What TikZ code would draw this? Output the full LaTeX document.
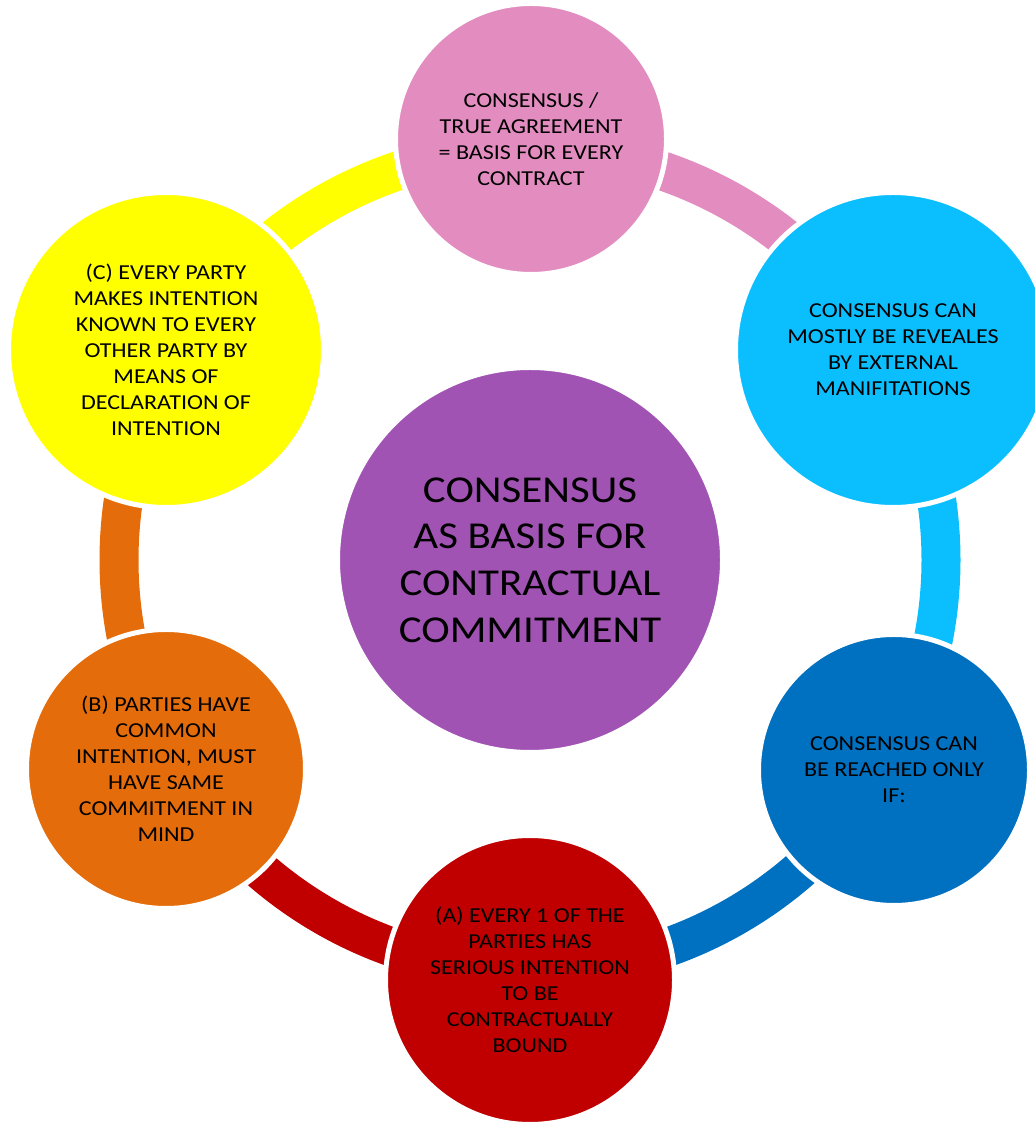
\documentclass[tikz,border=0pt]{standalone}
\usepackage{fontspec}
\setmainfont{Carlito}[FakeStretch=1.13]
\usetikzlibrary{backgrounds}
\definecolor{pinkc}{HTML}{E28CBF}
\definecolor{lbluec}{HTML}{0BBFFF}
\definecolor{dbluec}{HTML}{0070C0}
\definecolor{redc}{HTML}{C00000}
\definecolor{orangec}{HTML}{E46C0A}
\definecolor{yellowc}{HTML}{FFFF00}
\definecolor{purplec}{HTML}{A153B3}
\begin{document}
\begin{tikzpicture}[x=1pt,y=1pt,
  bub/.style={circle, draw=white, line width=5pt, inner sep=0pt, align=center,
    text=black, font=\fontsize{21.3}{26}\selectfont},
  ringseg/.style={line width=39pt}]
\useasboundingbox (0,0) rectangle (1034,1123);
\coordinate (hub) at (530,563);

\node[bub, fill=purplec, minimum size=385pt, font=\fontsize{38}{46.7}\selectfont] (core) at (hub)
  {CONSENSUS\\AS BASIS FOR\\CONTRACTUAL\\COMMITMENT};
\node[bub, fill=pinkc, minimum size=271pt] (top) at (531,984)
  {CONSENSUS /\\TRUE AGREEMENT\\= BASIS FOR EVERY\\CONTRACT};
\node[bub, fill=lbluec, minimum size=315pt] (ur) at (893,773)
  {CONSENSUS CAN\\MOSTLY BE REVEALES\\BY EXTERNAL\\MANIFITATIONS};
\node[bub, fill=dbluec, minimum size=271pt] (lr) at (894,353)
  {CONSENSUS CAN\\BE REACHED ONLY\\IF:};
\node[bub, fill=redc, minimum size=289pt] (bot) at (530,143)
  {(A) EVERY 1 OF THE\\PARTIES HAS\\SERIOUS INTENTION\\TO BE\\CONTRACTUALLY\\BOUND};
\node[bub, fill=orangec, minimum size=279pt] (ll) at (166,354)
  {(B) PARTIES HAVE\\COMMON\\INTENTION, MUST\\HAVE SAME\\COMMITMENT IN\\MIND};
\node[bub, fill=yellowc, minimum size=315pt] (ul) at (166,773)
  {(C) EVERY PARTY\\MAKES INTENTION\\KNOWN TO EVERY\\OTHER PARTY BY\\MEANS OF\\DECLARATION OF\\INTENTION};

\begin{scope}[on background layer]
\draw[ringseg, pinkc] (hub) ++(90:411) arc[start angle=90, end angle=30, radius=411];
\draw[ringseg, lbluec] (hub) ++(30:411) arc[start angle=30, end angle=-30, radius=411];
\draw[ringseg, dbluec] (hub) ++(-30:411) arc[start angle=-30, end angle=-90, radius=411];
\draw[ringseg, redc] (hub) ++(-90:411) arc[start angle=-90, end angle=-150, radius=411];
\draw[ringseg, orangec] (hub) ++(-150:411) arc[start angle=-150, end angle=-210, radius=411];
\draw[ringseg, yellowc] (hub) ++(150:411) arc[start angle=150, end angle=90, radius=411];
\end{scope}
\end{tikzpicture}
\end{document}
